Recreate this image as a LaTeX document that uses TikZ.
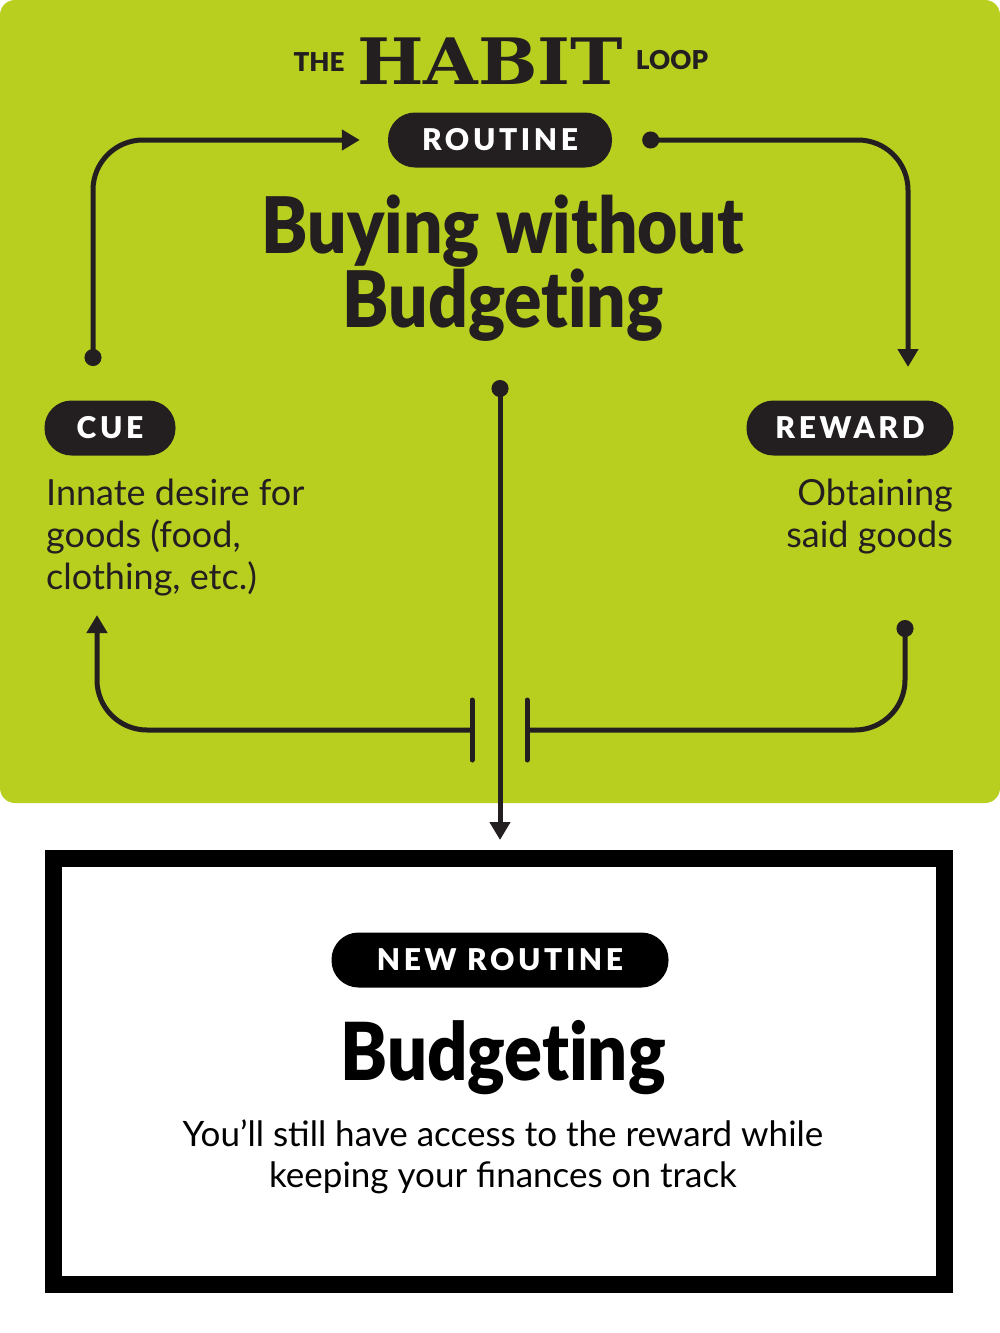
\documentclass[tikz,border=0pt]{standalone}
\usepackage{fontspec}
\setmainfont{Lato}
\newfontfamily\heavyfont[Ligatures={NoCommon,NoContextual,NoRare},Contextuals=NoAlternate]{Lato Black}
\newfontfamily\pillfont[LetterSpace=12]{Lato Black}
\newfontfamily\slabfont{DejaVu Serif}
\usetikzlibrary{arrows.meta,calc,positioning}
\definecolor{habitgreen}{HTML}{B8CF20}
\definecolor{habitdark}{HTML}{231F20}

\begin{document}
\begin{tikzpicture}[x=1pt,y=-1pt,
    pill/.style={fill=habitdark,text=white,rounded corners=27,minimum height=55,
      inner sep=0pt,font=\pillfont\fontsize{30}{30}\selectfont},
    loopline/.style={draw=habitdark,line width=5,rounded corners=50},
    tipend/.style={-{Triangle[length=18,width=20]}},
    dotstart/.style={{Circle[length=17]}-},
    dottip/.style={{Circle[length=17]}-{Triangle[length=18,width=20]}},
    bodytext/.style={text=habitdark,inner sep=0pt,font=\fontsize{36}{42}\selectfont}]
  \useasboundingbox (0,0) rectangle (1000,1333);
  \fill[habitgreen,rounded corners=15] (0,0) rectangle (1000,803);

  % title
  \node[text=habitdark,font=\heavyfont\fontsize{26}{26}\selectfont] (the) at (319,62) {THE};
  \node[text=habitdark,font=\slabfont\bfseries\fontsize{64}{64}\selectfont,xscale=1.1] (habit) at (490,61) {HABIT};
  \node[text=habitdark,font=\heavyfont\fontsize{26}{26}\selectfont] (loop) at (672,60) {LOOP};

  % the loop
  \node[pill,minimum width=224] (routine) at (500,140) {ROUTINE};
  \node[text=habitdark,align=center,xscale=0.89,font=\heavyfont\fontsize{78}{68}\selectfont] (habitname) at (503,268) {Buying without\\Budgeting};
  \node[pill,minimum width=131] (cue) at (110,428) {CUE};
  \node[pill,minimum width=207] (reward) at (850,428) {REWARD};
  \node[bodytext,align=left,anchor=north west] (cuetext) at (46,479) {Innate desire for\\goods (food,\\clothing, etc.)};
  \node[bodytext,align=right,anchor=north east] (rewardtext) at (953,479) {Obtaining\\said goods};

  \coordinate (cuetop) at (93,366);
  \coordinate (cuebottom) at (97,615);
  \coordinate (rewardtop) at (908,367);
  \coordinate (rewardbottom) at (905,620);
  \coordinate (breakleft) at (472,730);
  \coordinate (breakright) at (527,730);
  \coordinate (centretop) at (500,380);
  \coordinate (centrebottom) at (500,840);

  \draw[loopline,dottip] (cuetop) |- ([xshift=-28]routine.west);
  \draw[loopline,dottip] ([xshift=30]routine.east) -| (rewardtop);
  \draw[loopline,dotstart] (rewardbottom) |- (breakright);
  \draw[loopline,tipend] (breakleft) -| (cuebottom);
  \draw[habitdark,line width=5,line cap=round] ($(breakleft)+(0,-30)$) -- ($(breakleft)+(0,30)$);
  \draw[habitdark,line width=5,line cap=round] ($(breakright)+(0,-30)$) -- ($(breakright)+(0,30)$);
  \draw[habitdark,line width=5,dottip] (centretop) -- (centrebottom);

  % the new routine
  \draw[black,line width=17] (53.5,858.5) rectangle (944.5,1284.5);
  \node[pill,fill=black,minimum width=337] (newroutine) at (500,960) {NEW ROUTINE};
  \node[text=black,xscale=0.88,font=\heavyfont\fontsize{80}{68}\selectfont,anchor=base] (newname) at (503,1080) {Budgeting};
  \node[bodytext,text=black,align=center,anchor=north,below=22pt of newname,font=\fontsize{35}{41}\selectfont] (newtext) {You’ll still have access to the reward while\\keeping your finances on track};
\end{tikzpicture}
\end{document}
